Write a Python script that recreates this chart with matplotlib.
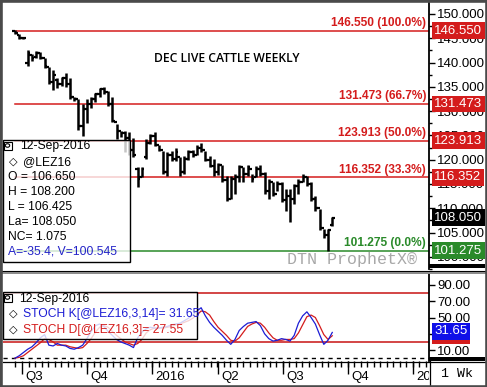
import numpy as np
import matplotlib
matplotlib.use("Agg")
import matplotlib.pyplot as plt
from matplotlib.patches import Rectangle, Circle
from matplotlib.lines import Line2D
from matplotlib import transforms

W, H = 487, 387

# weekly OHLC for Dec 2016 live cattle, last bar = 12-Sep-2016
opens = [146.55, 145.6, 145.0, 139.8, 141.5, 141.2, 142.0, 141.0, 139.0, 136.0,
         136.5, 135.5, 136.8, 135.5, 133.0, 132.4, 127.0, 130.5, 131.5, 132.5,
         133.5, 134.5, 134.0, 131.5, 127.8, 126.0, 125.5, 124.5, 122.0, 118.0,
         116.5, 120.5, 123.5, 124.8, 123.0, 122.0, 117.5, 121.0, 120.2, 120.5,
         117.5, 120.2, 121.5, 121.0, 122.5, 122.0, 120.0, 118.8, 117.5, 119.0,
         115.8, 112.0, 116.0, 116.5, 118.5, 117.0, 118.0, 116.4, 118.0, 117.0,
         113.5, 115.5, 113.0, 115.0, 111.8, 112.5, 112.0, 114.5, 115.5, 116.5,
         115.0, 112.0, 110.0, 106.0, 104.5, 106.65]
highs = [146.6, 145.8, 145.2, 142.6, 141.8, 142.4, 142.2, 141.0, 139.0, 138.5,
         136.9, 137.0, 137.9, 136.9, 133.0, 132.4, 131.4, 132.4, 132.8, 133.8,
         134.8, 135.0, 134.2, 132.8, 127.3, 126.0, 126.0, 125.8, 124.5, 118.4,
         118.4, 124.2, 125.2, 125.6, 123.0, 121.7, 121.5, 121.7, 122.5, 120.5,
         120.7, 122.0, 122.0, 123.0, 123.5, 121.7, 120.7, 120.1, 119.4, 119.0,
         116.6, 116.6, 117.0, 119.0, 118.4, 119.0, 117.0, 118.6, 119.0, 117.4,
         116.0, 115.4, 115.6, 115.4, 114.0, 114.0, 115.0, 116.0, 117.0, 116.6,
         115.4, 112.6, 109.9, 105.7, 105.7, 108.2]
lows = [145.9, 144.8, 144.9, 139.2, 140.4, 141.0, 140.8, 138.9, 135.5, 134.4,
        134.8, 135.2, 135.0, 132.4, 132.0, 126.2, 124.8, 127.5, 130.7, 131.8,
        132.8, 133.5, 131.0, 127.7, 124.2, 124.6, 121.5, 121.0, 120.5, 114.3,
        116.5, 120.1, 123.2, 122.8, 121.7, 117.0, 116.6, 119.7, 119.7, 116.6,
        117.0, 120.0, 120.5, 121.0, 121.5, 119.7, 118.4, 116.6, 116.8, 115.4,
        111.5, 112.0, 113.0, 115.4, 115.4, 116.6, 115.4, 116.4, 116.6, 113.0,
        112.0, 112.6, 113.5, 111.3, 109.5, 107.1, 110.9, 113.0, 115.4, 114.5,
        111.5, 109.5, 105.5, 103.8, 101.275, 106.425]
closes = [146.0, 145.0, 145.1, 142.0, 141.0, 142.0, 141.0, 139.2, 136.0, 137.5,
          135.5, 136.8, 135.5, 133.0, 132.4, 127.0, 130.5, 131.5, 132.5, 133.5,
          134.5, 134.0, 131.5, 128.0, 126.0, 125.5, 124.5, 122.0, 121.0, 116.0,
          118.0, 123.5, 124.8, 123.0, 122.0, 117.5, 121.0, 120.2, 121.5, 117.5,
          120.2, 121.5, 121.0, 122.5, 122.0, 120.0, 118.8, 117.5, 119.0, 115.8,
          112.0, 116.0, 116.5, 118.5, 117.0, 118.5, 116.0, 118.0, 117.0, 113.5,
          115.5, 113.0, 115.0, 111.8, 112.5, 112.0, 114.5, 115.5, 116.5, 115.0,
          112.0, 110.0, 106.0, 104.5, 105.5, 108.05]

stoch_k = [0, 3, 7, 11, 14, 19, 25, 29, 16, 15, 18, 16, 15, 12, 11, 13, 16, 24,
           33, 40, 42, 39, 33, 28, 23, 20, 18, 16, 13, 25, 32, 36, 38, 37, 37,
           38, 39, 41, 42, 43, 46, 49, 53, 58, 62, 52, 44, 38, 33, 28, 22, 17,
           23, 34, 39, 43, 44, 45, 40, 30, 24, 21, 22, 24, 23, 21, 28, 43, 52,
           57, 50, 42, 29, 17, 22, 31.65]
stoch_d = [0, 1, 3, 7, 11, 15, 19, 24, 23, 20, 16, 16, 16, 14, 13, 12, 13, 18,
           24, 32, 38, 40, 38, 33, 28, 24, 20, 18, 16, 18, 23, 31, 35, 37, 37,
           37, 38, 39, 41, 42, 44, 46, 49, 53, 58, 57, 53, 45, 38, 33, 28, 22,
           21, 25, 32, 39, 42, 44, 43, 38, 31, 25, 22, 22, 23, 23, 24, 31, 41,
           51, 53, 50, 40, 29, 23, 27.55]

fib_levels = [146.550, 131.473, 123.913, 116.352, 101.275]
fib_pcts = ["100.0%", "66.7%", "50.0%", "33.3%", "0.0%"]
fib_colors = ["#d41c1c", "#d41c1c", "#d41c1c", "#d41c1c", "#2a8a2a"]
last_price = 108.050

quarter_pos = [1.65, 17.0, 32.4, 48.0, 63.4, 78.7, 94.1]
quarter_labels = ["Q3", "Q4", "2016", "Q2", "Q3", "Q4", "2017"]

RED = "#d41c1c"
BLUE = "#1c1cd4"
GREEN = "#2a8a2a"


def px_axes(fig, left, top, right, bottom):
    return fig.add_axes([left / W, 1 - bottom / H, (right - left) / W, (bottom - top) / H])


def fpx(x, y):
    return x / W, 1 - y / H


def bare(ax):
    for s in ax.spines.values():
        s.set_visible(False)
    ax.set_facecolor("none")


def draw_price(fig):
    ax = px_axes(fig, 3, 3, 429, 269)
    bare(ax)
    ax.spines["right"].set_visible(True)
    ax.spines["right"].set_linewidth(1.3)
    x = np.arange(len(highs))
    ax.vlines(x, lows, highs, color="black", lw=1.8, zorder=3)
    ax.hlines(opens, x - 0.6, x, color="black", lw=1.6, zorder=3)
    ax.hlines(closes, x, x + 0.6, color="black", lw=1.6, zorder=3)
    ax.set_xlim(-2.84, 97.87)
    ax.set_ylim(97.75, 152.25)
    ax.set_xticks([])

    ax.yaxis.tick_right()
    ax.set_yticks(np.arange(100, 151, 5))
    ax.set_yticks(np.arange(97.5, 152, 2.5), minor=True)
    ax.set_yticklabels([f"{v:.3f}" for v in np.arange(100, 151, 5)])
    ax.tick_params(axis="y", which="major", length=4, width=1, pad=2, labelsize=9.5)
    ax.tick_params(axis="y", which="minor", length=2, width=1)

    right = transforms.blended_transform_factory(ax.transAxes, ax.transData)
    for lvl, pct, col in zip(fib_levels, fib_pcts, fib_colors):
        ax.axhline(lvl, xmin=0.028, xmax=1, color=col, lw=1.1, zorder=2)
        ax.text(0.993, lvl + 0.35, f"{lvl:.3f} ({pct})", transform=right, ha="right",
                va="bottom", color=col, fontsize=8.6, fontweight="bold", zorder=4)
        ax.text(1.0125, lvl, f"{lvl:.3f}", transform=right, ha="left", va="center",
                color="white", fontsize=9.5, zorder=6,
                bbox=dict(boxstyle="square,pad=0.18", fc=col, ec="none"))
    ax.text(1.0125, last_price, f"{last_price:.3f}", transform=right, ha="left",
            va="center", color="white", fontsize=9.5, zorder=6,
            bbox=dict(boxstyle="square,pad=0.18", fc="black", ec="none"))

    ax.text(0.525, 0.79, "DEC LIVE CATTLE WEEKLY", transform=ax.transAxes, ha="center",
            va="center", fontsize=8.7, fontweight="semibold", family="Open Sans")
    ax.text(0.82, 0.035, "DTN ProphetX\u00ae", transform=ax.transAxes, ha="center",
            va="center", fontsize=12, color="#a8a8a8", family="Liberation Mono")
    return ax


def draw_stoch(fig):
    ax = px_axes(fig, 3, 274, 429, 361)
    bare(ax)
    ax.spines["right"].set_visible(True)
    ax.spines["right"].set_linewidth(1.3)
    x = np.arange(len(stoch_k))
    ax.plot(x, stoch_d, color=RED, lw=0.9, zorder=3)
    ax.plot(x, stoch_k, color=BLUE, lw=0.9, zorder=3)
    ax.axhline(80, color="#c81414", lw=1.1)
    ax.axhline(20, color="#c81414", lw=1.1)
    ax.axhline(0, color="black", lw=1, ls=(0, (3, 3)))
    ax.set_xlim(-2.84, 97.87)
    ax.set_ylim(-3.5, 103.5)
    ax.set_xticks([])
    ax.yaxis.tick_right()
    ax.set_yticks([10, 30, 50, 70, 90])
    # the 30.00 label sits under the value boxes, as in the original
    ax.set_yticklabels(["10.00", "", "50.00", "70.00", "90.00"])
    ax.tick_params(axis="y", length=4, width=1, pad=2, labelsize=9.5)

    right = transforms.blended_transform_factory(ax.transAxes, ax.transData)
    ax.text(1.0125, stoch_d[-1], f"{stoch_d[-1]:.2f}", transform=right, ha="left",
            va="center", color="white", fontsize=9.5, zorder=6,
            bbox=dict(boxstyle="square,pad=0.18", fc=RED, ec="none"))
    ax.text(1.0125, stoch_k[-1] + 1.5, f"{stoch_k[-1]:.2f}", transform=right, ha="left",
            va="center", color="white", fontsize=9.5, zorder=7,
            bbox=dict(boxstyle="square,pad=0.18", fc="#1010e8", ec="none"))
    return ax


def draw_time_axis(fig):
    ax = px_axes(fig, 3, 361, 429, 386)
    bare(ax)
    ax.set_xlim(-2.84, 97.87)
    ax.set_ylim(0, 1)
    ax.set_yticks([])
    ax.xaxis.tick_top()
    ax.set_xticks(quarter_pos)
    ax.set_xticks(np.arange(quarter_pos[0] - 1.54, 98, 1.54), minor=True)
    ax.set_xticklabels([])
    ax.tick_params(axis="x", which="major", direction="in", length=9, width=1)
    ax.tick_params(axis="x", which="minor", direction="in", length=4, width=1)
    shift = transforms.ScaledTranslation(0.03, 0, fig.dpi_scale_trans)
    for pos, lab in zip(quarter_pos, quarter_labels):
        ax.text(pos, 0.36, lab, transform=ax.transData + shift, ha="left",
                va="center", fontsize=9.5, clip_on=True)
    return ax


def icon(fig, x, y):
    x0, y0 = fpx(x - 4, y + 4)
    fig.add_artist(Rectangle((x0, y0), 8 / W, 8 / H, transform=fig.transFigure,
                             fc="white", ec="black", lw=0.8, zorder=6))
    fig.add_artist(Circle(fpx(x - 0.5, y - 0.5), 2.2 / W, transform=fig.transFigure,
                          fc="none", ec="black", lw=0.8, zorder=7))


def legend_box(fig, left, top, right, bottom, alpha):
    x0, y0 = fpx(left, bottom)
    x1, y1 = fpx(right, top)
    fig.add_artist(Rectangle((x0, y0), x1 - x0, y1 - y0, transform=fig.transFigure,
                             fc="white", ec="none", alpha=alpha, zorder=5))
    fig.add_artist(Rectangle((x0, y0), x1 - x0, y1 - y0, transform=fig.transFigure,
                             fc="none", ec="black", lw=1, zorder=5))


def draw_info_boxes(fig):
    # main panel legend
    legend_box(fig, 3, 140, 130, 262, 0.78)
    rows = [(20, 146, "12-Sep-2016", "black"), (23, 162, "@LEZ16", "black"),
            (8, 177, "O = 106.650", "black"), (8, 192, "H = 108.200", "black"),
            (8, 207, "L = 106.425", "black"), (8, 222, "La= 108.050", "black"),
            (8, 237, "NC= 1.075", "black"), (8, 252, "A=-35.4, V=100.545", "#2424c8")]
    for x, y, s, c in rows:
        fig.text(*fpx(x, y), s, color=c, fontsize=8.7, va="center", zorder=6)
    icon(fig, 8, 146)
    fig.text(*fpx(9, 162), "\u25c7", fontsize=8, va="center", ha="left",
             family="DejaVu Sans", zorder=6)

    # stochastic panel legend
    legend_box(fig, 3, 292, 197, 339, 0.8)
    fig.text(*fpx(19, 299), "12-Sep-2016", fontsize=8.7, va="center", zorder=6)
    icon(fig, 8, 298)
    fig.text(*fpx(23, 314), f"STOCH K[@LEZ16,3,14]= {stoch_k[-1]:.2f}", color=BLUE,
             fontsize=8.7, va="center", zorder=6)
    fig.text(*fpx(23, 330), f"STOCH D[@LEZ16,3]= {stoch_d[-1]:.2f}", color=RED,
             fontsize=8.7, va="center", zorder=6)
    for y in (314, 330):
        fig.text(*fpx(9, y), "\u25c7", fontsize=8, va="center", ha="left",
                 family="DejaVu Sans", zorder=6)


def draw_frame(fig):
    def hline(y, x0, x1, color, lw):
        fig.add_artist(Line2D([x0 / W, x1 / W], [1 - y / H] * 2, color=color, lw=lw,
                              transform=fig.transFigure, zorder=8))

    def vline(x, y0, y1, color, lw):
        fig.add_artist(Line2D([x / W] * 2, [1 - y0 / H, 1 - y1 / H], color=color, lw=lw,
                              transform=fig.transFigure, zorder=8))

    # panel separators
    hline(270.5, 0, 487, "black", 0.8)
    hline(272.5, 0, 487, "#8a8a8a", 1.4)
    hline(362, 3, 487, "black", 0.9)
    # thick bars under the right-hand scales
    for y0, y1 in ((264, 268), (357, 361)):
        a, b = fpx(429, y1)
        fig.add_artist(Rectangle((a, b), 56 / W, (y1 - y0) / H, transform=fig.transFigure,
                                 fc="black", ec="none", zorder=8))
    vline(429.5, 361, 387, "black", 0.9)
    fig.text(*fpx(457, 374), "1 Wk", ha="center", va="center", fontsize=9.5,
             family="Liberation Mono")
    # outer border
    fig.add_artist(Rectangle((0.5 / W, 0.5 / H), 486 / W, 386 / H, transform=fig.transFigure,
                             fc="none", ec="#4a4a4a", lw=2.6, zorder=9))


def main():
    plt.rcParams["font.family"] = ["Liberation Sans", "DejaVu Sans"]
    fig = plt.figure(figsize=(W / 100, H / 100), dpi=100)
    fig.patch.set_facecolor("white")
    draw_price(fig)
    draw_stoch(fig)
    draw_time_axis(fig)
    draw_info_boxes(fig)
    draw_frame(fig)
    fig.savefig("out.png", dpi=100)


if __name__ == "__main__":
    main()
